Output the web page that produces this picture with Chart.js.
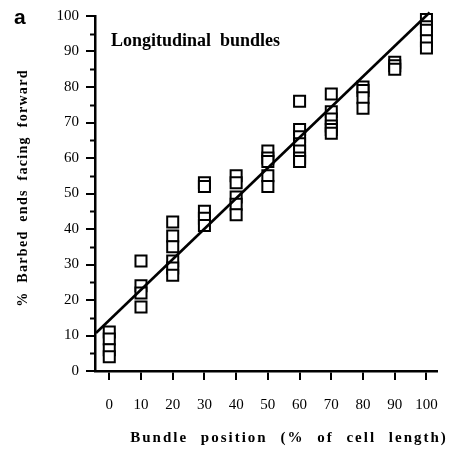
<!DOCTYPE html>
<html>
<head>
<meta charset="utf-8">
<script src="https://cdn.jsdelivr.net/npm/chart.js@4.4.1/dist/chart.umd.min.js"></script>
<style>
  html, body { margin: 0; padding: 0; background: #fff; }
</style>
</head>
<body>
<canvas id="chart" width="454" height="449"></canvas>
<script>
'use strict';

// bundle position (% of cell length) and % barbed ends facing forward, one entry per square
let bundlePos = [
  0, 0, 0, 0,
  10, 10, 10, 10,
  20, 20, 20, 20, 20, 20,
  30, 30, 30, 30, 30,
  40, 40, 40, 40, 40,
  50, 50, 50, 50, 50,
  60, 60, 60, 60, 60, 60, 60,
  70, 70, 70, 70, 70, 70,
  80, 80, 80, 80,
  90, 90, 90,
  100, 100, 100, 100, 100
];
let barbedPct = [
  11, 9, 6, 4,
  31, 24, 22, 18,
  42, 38, 35, 31, 29, 27,
  53, 52, 45, 43, 41,
  55, 53, 49, 47, 44,
  62, 60, 59, 55, 52,
  76, 68, 66, 64, 62, 60, 59,
  78, 73, 71, 69, 68, 67,
  80, 79, 77, 74,
  87, 86, 85,
  99, 97, 96, 93, 91
];

// end points of the fitted line
let fitX = [-4.2, 101];
let fitY = [10.7, 101];

let xTicks = [0, 10, 20, 30, 40, 50, 60, 70, 80, 90, 100];
let yTicks = [0, 10, 20, 30, 40, 50, 60, 70, 80, 90, 100];
let yMinor = [5, 15, 25, 35, 45, 55, 65, 75, 85, 95];

let squares = [];
for (let i = 0; i < bundlePos.length; i++) {
  squares.push({x: bundlePos[i], y: barbedPct[i]});
}
let fitLine = [];
for (let i = 0; i < fitX.length; i++) {
  fitLine.push({x: fitX[i], y: fitY[i]});
}

const serif = '"Liberation Serif", "Times New Roman", serif';

const textPlugin = {
  id: 'textPlugin',
  afterDraw(chart) {
    const ctx = chart.ctx;
    const area = chart.chartArea;
    const yScale = chart.scales.y;
    ctx.save();
    ctx.fillStyle = '#000';
    ctx.strokeStyle = '#000';

    // minor ticks on the y axis
    ctx.lineWidth = 2;
    for (let i = 0; i < yMinor.length; i++) {
      let py = Math.round(yScale.getPixelForValue(yMinor[i])) + 0.5;
      ctx.beginPath();
      ctx.moveTo(area.left - 5, py);
      ctx.lineTo(area.left, py);
      ctx.stroke();
    }

    // panel letter
    ctx.font = 'bold 21px "Liberation Sans", Arial, sans-serif';
    ctx.textAlign = 'left';
    ctx.textBaseline = 'alphabetic';
    ctx.fillText('a', 14, 24);

    // title inside the plot
    ctx.font = 'bold 18px ' + serif;
    ctx.fillText('Longitudinal  bundles', 111, 46);

    // x axis title
    ctx.font = 'bold 15px ' + serif;
    ctx.letterSpacing = '2px';
    ctx.wordSpacing = '7px';
    ctx.textAlign = 'center';
    ctx.fillText('Bundle position (% of cell length)', 289, 442);

    // y axis title
    ctx.font = 'bold 14px ' + serif;
    ctx.translate(27, 188);
    ctx.rotate(-Math.PI / 2);
    ctx.letterSpacing = '1.3px';
    ctx.wordSpacing = '4px';
    ctx.fillText('% Barbed ends facing forward', 0, 0);
    ctx.restore();
  }
};

const config = {
  type: 'scatter',
  data: {
    datasets: [
      {
        label: 'fit',
        type: 'line',
        data: fitLine,
        borderColor: '#000',
        borderWidth: 2.6,
        pointRadius: 0,
        fill: false,
        clip: false
      },
      {
        label: 'bundles',
        data: squares,
        pointStyle: 'rect',
        pointRadius: 7.8,
        backgroundColor: '#fff',
        borderColor: '#000',
        borderWidth: 2,
        clip: false
      }
    ]
  },
  options: {
    responsive: false,
    animation: false,
    devicePixelRatio: 1,
    layout: {padding: {top: 15, right: 2, left: 0, bottom: 0}},
    plugins: {
      legend: {display: false},
      tooltip: {enabled: false}
    },
    scales: {
      x: {
        type: 'linear',
        min: -4.5,
        max: 103.3,
        afterBuildTicks: function (scale) {
          scale.ticks = xTicks.map(v => ({value: v}));
        },
        afterFit: function (scale) { scale.height = 78; },
        grid: {drawOnChartArea: false, drawTicks: true, tickLength: 9, color: '#000', lineWidth: 2},
        border: {display: true, color: '#000', width: 2.5},
        ticks: {color: '#000', font: {family: serif, size: 15}, padding: 16, maxRotation: 0, autoSkip: false}
      },
      y: {
        type: 'linear',
        min: 0,
        max: 100,
        afterBuildTicks: function (scale) {
          scale.ticks = yTicks.map(v => ({value: v}));
        },
        afterFit: function (scale) { scale.width = 95; },
        grid: {drawOnChartArea: false, drawTicks: true, tickLength: 9, color: '#000', lineWidth: 2},
        border: {display: true, color: '#000', width: 2.5},
        ticks: {color: '#000', font: {family: serif, size: 15}, padding: 7, autoSkip: false}
      }
    }
  },
  plugins: [textPlugin]
};

const myChart = new Chart(document.getElementById('chart'), config);
</script>
</body>
</html>
